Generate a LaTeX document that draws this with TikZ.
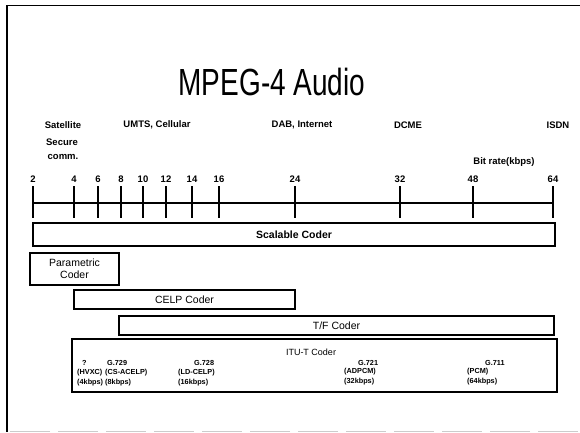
\documentclass[tikz,border=0pt]{standalone}
\usepackage{fontspec}
\setmainfont{Liberation Sans}
\begin{document}
\begin{tikzpicture}[x=1pt,y=-1pt,
  box/.style={draw=black,line width=1.4pt,inner sep=0pt,align=center,font=\fontsize{10.5}{12}\selectfont},
  toplbl/.style={font=\bfseries\fontsize{9.5}{11}\selectfont,inner sep=0pt},
  ticklbl/.style={font=\bfseries\fontsize{9.5}{10}\selectfont,inner sep=0pt},
  sublbl/.style={font=\bfseries\fontsize{7.3}{8}\selectfont,inner sep=0pt,anchor=west},
  tickline/.style={line width=1.7pt}]
\useasboundingbox (0,0) rectangle (580,432);
% page frame
\draw[line width=2.6pt] (7,5) -- (7,432);
\draw[line width=1pt] (6,5) -- (580,5);
\draw[gray!40,line width=0.8pt,dash pattern=on 40pt off 8pt] (10,431) -- (580,431);
% title
\node[inner sep=0pt] (title) at (272,82) {\scalebox{1}[1.35]{\fontsize{28}{30}\selectfont MPEG-4 Audio}};
% top labels
\node[toplbl] (sat) at (63,125) {Satellite};
\node[toplbl] (sec) at (62,142) {Secure};
\node[toplbl] (comm) at (63,157) {comm.};
\node[toplbl] (umts) at (157,125) {UMTS, Cellular};
\node[toplbl] (dab) at (302,125) {DAB, Internet};
\node[toplbl] (dcme) at (408,125) {DCME};
\node[toplbl] (isdn) at (558,125) {ISDN};
\node[toplbl] (brate) at (504,162) {Bit rate(kbps)};
% axis
\coordinate (axL) at (33,203);
\coordinate (axR) at (553,203);
\draw[line width=1.8pt] (axL) -- (axR);
\foreach \v/\x in {2/33,4/74,6/98,8/121,10/143,12/166,14/192,16/219,24/295,32/400,48/473,64/553}{
  \node[ticklbl] (t\v) at (\x,179) {\v};
  \coordinate (ta\v) at (\x,186);
  \coordinate (tb\v) at (\x,218);
  \draw[tickline] (ta\v) -- (tb\v);
}
% coder boxes
\node[box,minimum width=522pt,minimum height=23pt,font=\bfseries\fontsize{10.5}{12}\selectfont] (scal) at (294,234.5) {Scalable Coder};
\node[box,minimum width=89pt,minimum height=32pt] (param) at (74.5,269) {Parametric\\Coder};
\node[box,minimum width=221pt,minimum height=19pt] (celp) at (184.5,299.5) {CELP Coder};
\node[box,minimum width=435pt,minimum height=19pt] (tf) at (336.5,325.5) {T/F Coder};
\node[box,minimum width=485pt,minimum height=53pt] (itu) at (314.5,365.5) {};
\node[inner sep=0pt,font=\fontsize{9}{10}\selectfont] (itulbl) at (311,352) {ITU-T Coder};
% ITU-T sub labels
\node[sublbl] (q1) at (82,363) {?};
\node[sublbl] (q2) at (77,373) {(HVXC)};
\node[sublbl] (q3) at (77,383) {(4kbps)};
\node[sublbl] (a1) at (107,363) {G.729};
\node[sublbl] (a2) at (105,373) {(CS-ACELP)};
\node[sublbl] (a3) at (105,383) {(8kbps)};
\node[sublbl] (b1) at (194,363) {G.728};
\node[sublbl] (b2) at (178,373) {(LD-CELP)};
\node[sublbl] (b3) at (178,383) {(16kbps)};
\node[sublbl] (c1) at (358,363) {G.721};
\node[sublbl] (c2) at (344,372) {(ADPCM)};
\node[sublbl] (c3) at (344,382) {(32kbps)};
\node[sublbl] (d1) at (485,363) {G.711};
\node[sublbl] (d2) at (467,372) {(PCM)};
\node[sublbl] (d3) at (467,382) {(64kbps)};
\end{tikzpicture}
\end{document}
